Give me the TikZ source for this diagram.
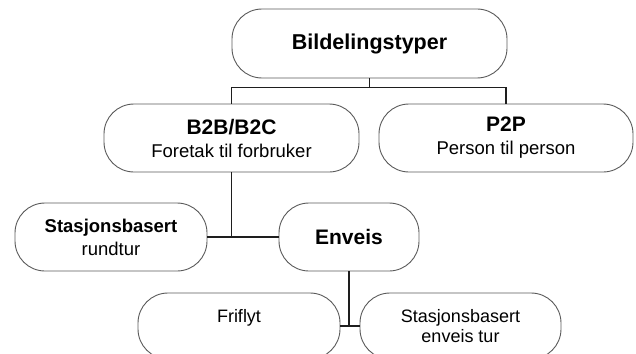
\documentclass[tikz,border=0pt]{standalone}
\usepackage{fontspec}
\setmainfont{Liberation Sans}
\definecolor{boxline}{HTML}{5A5A5A}
\definecolor{linkline}{HTML}{1E1E1E}
\tikzset{
  pill/.style={draw=boxline, line width=0.9pt, rounded corners=30pt,
    align=center, inner sep=0pt, text=black,
    font=\fontsize{18.5}{23}\selectfont},
  link/.style={draw=linkline, line width=1.8pt},
  hbig/.style={font=\fontsize{21.5}{23}\selectfont\bfseries},
}
\newcommand{\headbig}[1]{{\fontsize{21}{23}\selectfont\bfseries #1}}
\newcommand{\headsmall}[1]{{\fontsize{18.5}{23}\selectfont\bfseries #1}}
\begin{document}
\begin{tikzpicture}[x=1pt,y=-1pt]
  \useasboundingbox (0,0) rectangle (636,353);
  \clip (0,0) rectangle (636,353);

  % level 0
  \node[pill, hbig, minimum width=275pt, minimum height=69pt] (root) at (369.5,43.5) {Bildelingstyper};

  % level 1
  \node[pill, minimum width=255pt, minimum height=68pt] (b2b) at (231.5,138)
    {\headbig{B2B/B2C}\\Foretak til forbruker};
  \node[pill, minimum width=254pt, minimum height=68pt] (p2p) at (506,138)
    {\headbig{P2P}\\Person til person};

  % level 2
  \node[pill, minimum width=192pt, minimum height=68pt] (rund) at (111,237)
    {\headsmall{Stasjonsbasert}\\rundtur};
  \node[pill, font=\fontsize{21}{23}\selectfont\bfseries, minimum width=140pt, minimum height=68pt] (enveis) at (349,237)
    {Enveis};

  % level 3
  \node[pill, font=\fontsize{18}{20}\selectfont, minimum width=202pt, minimum height=66pt] (fri) at (239,326)
    {Friflyt\\\mbox{}};
  \node[pill, font=\fontsize{18}{20}\selectfont, minimum width=201pt, minimum height=66pt] (stenv) at (460.5,326)
    {Stasjonsbasert\\enveis tur};

  % connectors
  \draw[link] (root.south) -- ++(0,9) coordinate (rj);
  \draw[link] (b2b.north) |- (rj) -| (p2p.north);
  \draw[link] (rund.east) -- (enveis.west);
  \draw[link] (b2b.south) -- (b2b.south |- rund.east);
  \draw[link] (fri.east) -- (stenv.west);
  \draw[link] (enveis.south) -- (enveis.south |- fri.east);
\end{tikzpicture}
\end{document}
